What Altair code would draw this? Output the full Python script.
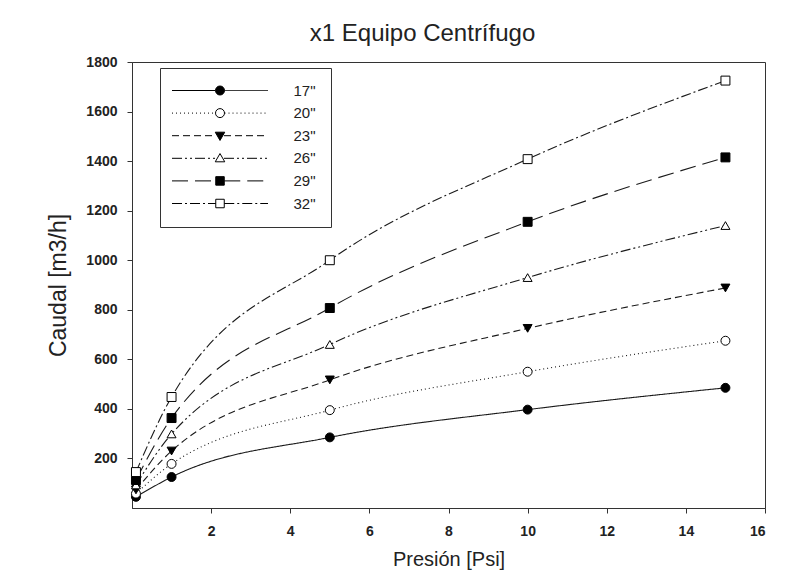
import altair as alt
import pandas as pd

# ---- data ----
presion = [0.1, 1, 5, 10, 15]
series = ['17"', '20"', '23"', '26"', '29"', '32"']
q17 = [45, 125, 285, 397, 485]
q20 = [58, 178, 395, 550, 675]
q23 = [73, 230, 517, 725, 888]
q26 = [93, 299, 660, 930, 1140]
q29 = [113, 363, 807, 1155, 1415]
q32 = [145, 448, 1000, 1408, 1725]
caudales = [q17, q20, q23, q26, q29, q32]

x_ticks = [2, 4, 6, 8, 10, 12, 14, 16]
y_ticks = [200, 400, 600, 800, 1000, 1200, 1400, 1600, 1800]

rows = []
for s, qs in zip(series, caudales):
    for p, q in zip(presion, qs):
        rows.append({"serie": s, "presion": p, "caudal": q})
df = pd.DataFrame(rows)

# ---- styles ----
dashes = [[1, 0], [1, 3], [7, 4], [10, 3, 2, 3, 2, 3], [16, 7], [10, 3, 2, 3]]
shapes = ["circle", "circle", "triangle-down", "triangle-up", "square", "square"]
fills = ["black", "white", "black", "white", "black", "white"]
FONT = "Liberation Sans"

# legend symbols: custom paths (unit = sqrt(symbolSize)/2 px) holding line sample + marker
UNIT = 5.0
HALF = 9.6  # half length of the sample line, in units
markers = {
    "circle": ("M0.9,0A0.9,0.9,0,1,1,-0.9,0A0.9,0.9,0,1,1,0.9,0Z", 0.9),
    "triangle-down": ("M-0.95,-0.7L0.95,-0.7L0,0.95Z", 0.8),
    "triangle-up": ("M-0.95,0.7L0.95,0.7L0,-0.95Z", 0.8),
    "square": ("M-0.85,-0.85L0.85,-0.85L0.85,0.85L-0.85,0.85Z", 0.85),
}


def dashed(pattern, a, b, phase=0.0):
    pat = [v / UNIT for v in pattern]
    segs = []
    pos = a - phase
    i = 0
    while pos < b:
        ln = pat[i % len(pat)]
        if i % 2 == 0:
            s0, s1 = max(pos, a), min(pos + ln, b)
            if s1 > s0:
                segs.append(f"M{s0:.3f},0L{s1:.3f},0")
        pos += ln
        i += 1
    return "".join(segs)


legend_paths = []
for pat, shp in zip(dashes, shapes):
    mpath, gap = markers[shp]
    legend_paths.append(dashed(pat, -HALF, -gap) + dashed(pat, gap, HALF) + mpath)

x_enc = alt.X("presion:Q", scale=alt.Scale(domain=[0, 16], nice=False),
              axis=alt.Axis(values=x_ticks, title="Presión [Psi]", format="d"))
y_enc = alt.Y("caudal:Q", scale=alt.Scale(domain=[0, 1800], nice=False),
              axis=alt.Axis(values=y_ticks, title="Caudal [m3/h]", format="d"))

base = alt.Chart(df)

lines = base.mark_line(interpolate="monotone", color="#1a1a1a", strokeWidth=1.1).encode(
    x=x_enc, y=y_enc,
    strokeDash=alt.StrokeDash("serie:N", scale=alt.Scale(domain=series, range=dashes), legend=None),
)

points = base.mark_point(size=80, stroke="black", strokeWidth=1, opacity=1).encode(
    x=x_enc, y=y_enc,
    shape=alt.Shape("serie:N", scale=alt.Scale(domain=series, range=shapes), legend=None),
    fill=alt.Fill("serie:N", scale=alt.Scale(domain=series, range=fills), legend=None),
)

leg = alt.Legend(
    orient="none", legendX=28, legendY=6, title=None, padding=15,
    strokeColor="#333", symbolSize=100, symbolStrokeWidth=1, symbolStrokeColor="black",
    symbolOffset=37.5, labelOffset=66, rowPadding=6.6,
    labelFont=FONT, labelFontSize=15, labelColor="#222",
)

legend_layer = base.mark_point(size=100, strokeWidth=1, opacity=1).encode(
    x=x_enc, y=y_enc,
    shape=alt.Shape("serie:N", scale=alt.Scale(domain=series, range=legend_paths), legend=leg),
    fill=alt.Fill("serie:N", scale=alt.Scale(domain=series, range=fills), legend=leg),
    stroke=alt.Stroke("serie:N", scale=alt.Scale(domain=series, range=["black"] * 6), legend=leg),
).transform_filter("false")

chart = alt.layer(lines, points, legend_layer).resolve_scale(
    shape="independent", fill="independent", stroke="independent"
).properties(
    width=633, height=446,
    autosize=alt.AutoSizeParams(type="none"),
    padding={"left": 132, "top": 62, "right": 29, "bottom": 78},
    background="white",
    title=alt.TitleParams("x1 Equipo Centrífugo", font=FONT, fontSize=24, fontWeight="normal",
                          color="#222", anchor="middle", dx=-26, dy=29, offset=19,
                          baseline="alphabetic", frame="group"),
).configure_view(stroke="#333", strokeWidth=1).configure_axis(
    grid=False, domainColor="#333", tickColor="#333", tickSize=5,
    labelFont=FONT, labelFontSize=14, labelFontWeight="bold", labelColor="#222",
    titleFont=FONT, titleFontWeight="normal", titleColor="#222",
).configure_axisX(labelPadding=11, titleFontSize=20, titlePadding=11
).configure_axisY(labelPadding=10, titleFontSize=23, titlePadding=15)

chart.save("out.html", embed_options={"renderer": "svg", "actions": False})
